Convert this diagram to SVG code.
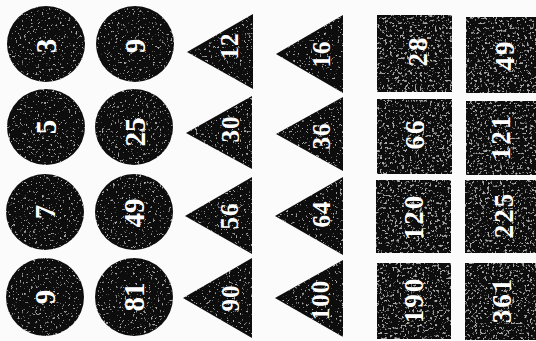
<svg xmlns="http://www.w3.org/2000/svg" width="536" height="341" viewBox="0 0 536 341">
<defs>
<filter id="grit" x="0" y="0" width="100%" height="100%">
<feTurbulence type="fractalNoise" baseFrequency="0.45" numOctaves="3" seed="3" result="n"/>
<feColorMatrix in="n" type="matrix" values="0 0 0 0 0.4  0 0 0 0 0.4  0 0 0 0 0.4  0 0 0 10 -6.6" result="s"/>
<feComposite in="s" in2="SourceGraphic" operator="in" result="sp"/>
<feMerge><feMergeNode in="SourceGraphic"/><feMergeNode in="sp"/></feMerge>
</filter>
<filter id="gritL" x="0" y="0" width="100%" height="100%">
<feTurbulence type="fractalNoise" baseFrequency="0.4" numOctaves="3" seed="7" result="n"/>
<feColorMatrix in="n" type="matrix" values="0 0 0 0 0.42  0 0 0 0 0.42  0 0 0 0 0.42  0 0 0 8 -4.8" result="s"/>
<feComposite in="s" in2="SourceGraphic" operator="in" result="sp"/>
<feMerge><feMergeNode in="SourceGraphic"/><feMergeNode in="sp"/></feMerge>
</filter>
</defs>
<style>
.c{fill:#0a0a0a;filter:url(#grit)}
.t{fill:#0a0a0a;filter:url(#grit)}
.s{fill:#0e0e0e;filter:url(#gritL)}
text{fill:#fff;font-family:"Liberation Serif","DejaVu Serif",serif;font-weight:bold;text-anchor:middle;dominant-baseline:central}
.ct{font-size:29px}
.tt{font-size:25px;letter-spacing:1px}
.st{font-size:27px;letter-spacing:2px}
</style>
<rect width="536" height="341" fill="#fbfbfb"/>
<g id="connectors"/>
<g id="c3"><ellipse class="c" cx="46" cy="44" rx="39" ry="38"/><text class="ct" transform="translate(46,46) rotate(-90)">3</text></g>
<g id="c5"><ellipse class="c" cx="46" cy="127" rx="39" ry="38"/><text class="ct" transform="translate(46,127) rotate(-90)">5</text></g>
<g id="c7"><ellipse class="c" cx="45" cy="212" rx="39" ry="38"/><text class="ct" transform="translate(45,212) rotate(-90)">7</text></g>
<g id="c9a"><ellipse class="c" cx="45" cy="297" rx="39" ry="39"/><text class="ct" transform="translate(45,297) rotate(-90)">9</text></g>
<g id="c9b"><ellipse class="c" cx="135" cy="44" rx="39" ry="38"/><text class="ct" transform="translate(135,46) rotate(-90)">9</text></g>
<g id="c25"><ellipse class="c" cx="134" cy="127" rx="39" ry="38"/><text class="ct" transform="translate(135,132) rotate(-90)">25</text></g>
<g id="c49"><ellipse class="c" cx="134" cy="212" rx="39" ry="38"/><text class="ct" transform="translate(134,213) rotate(-90)">49</text></g>
<g id="c81"><ellipse class="c" cx="134" cy="297" rx="39" ry="39"/><text class="ct" transform="translate(134,297) rotate(-90)">81</text></g>
<g id="t12"><polygon class="t" points="187,52 253,14 253,89"/><text class="tt" transform="translate(229,46) rotate(-90)">12</text></g>
<g id="t30"><polygon class="t" points="186,133 252,96 252,169"/><text class="tt" transform="translate(230,129) rotate(-90)">30</text></g>
<g id="t56"><polygon class="t" points="185,216 252,177 252,254"/><text class="tt" transform="translate(229,216) rotate(-90)">56</text></g>
<g id="t90"><polygon class="t" points="183,298 252,258 252,338"/><text class="tt" transform="translate(230,298) rotate(-90)">90</text></g>
<g id="t16"><polygon class="t" points="276,54 343,15 343,93"/><text class="tt" transform="translate(321,54) rotate(-90)">16</text></g>
<g id="t36"><polygon class="t" points="276,134 343,97 343,171"/><text class="tt" transform="translate(321,136) rotate(-90)">36</text></g>
<g id="t64"><polygon class="t" points="275,216 343,177 343,255"/><text class="tt" transform="translate(321,214) rotate(-90)">64</text></g>
<g id="t100"><polygon class="t" points="275,298 343,260 343,337"/><text class="tt" transform="translate(320,300) rotate(-90)">100</text></g>
<g id="s28"><rect class="s" x="377" y="15" width="75" height="77"/><text class="st" transform="translate(418,51) rotate(-90)">28</text></g>
<g id="s66"><rect class="s" x="377" y="99" width="75" height="75"/><text class="st" transform="translate(415,134) rotate(-90)">66</text></g>
<g id="s120"><rect class="s" x="376" y="180" width="75" height="73"/><text class="st" transform="translate(414,217) rotate(-90)">120</text></g>
<g id="s190"><rect class="s" x="377" y="263" width="74" height="76"/><text class="st" transform="translate(414,300) rotate(-90)">190</text></g>
<g id="s49"><rect class="s" x="466" y="17" width="70" height="76"/><text class="st" transform="translate(505,55) rotate(-90)">49</text></g>
<g id="s121"><rect class="s" x="466" y="101" width="70" height="74"/><text class="st" transform="translate(501,137) rotate(-90)">121</text></g>
<g id="s225"><rect class="s" x="465" y="180" width="71" height="73"/><text class="st" transform="translate(504,215) rotate(-90)">225</text></g>
<g id="s361"><rect class="s" x="465" y="263" width="71" height="77"/><text class="st" transform="translate(502,300) rotate(-90)">361</text></g>
</svg>
